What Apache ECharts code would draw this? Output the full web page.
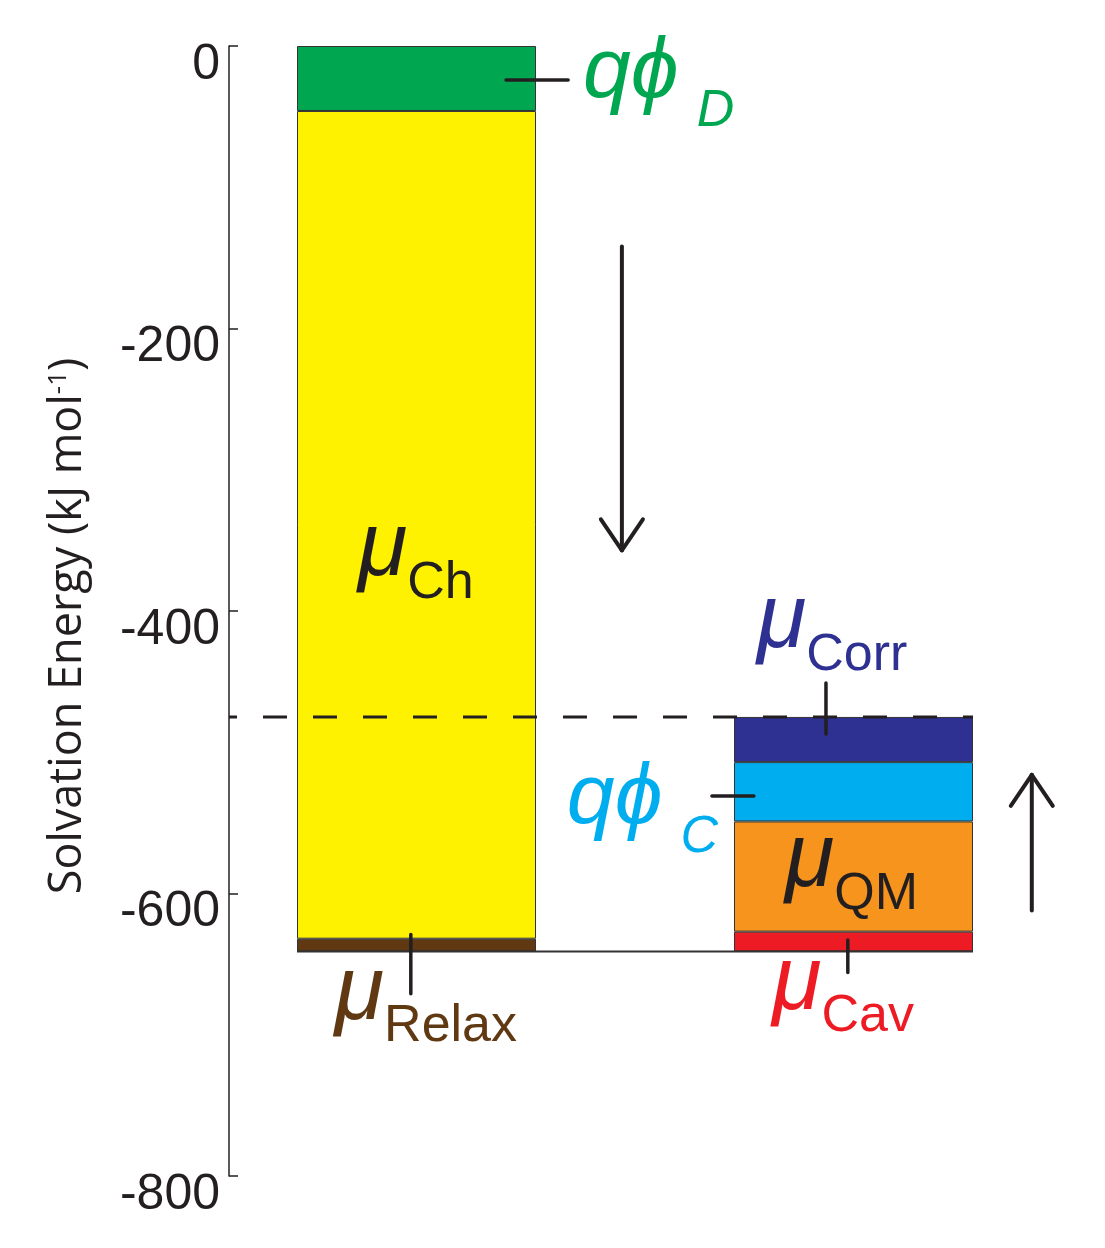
<!DOCTYPE html>
<html><head><meta charset="utf-8">
<script src="https://cdn.jsdelivr.net/npm/echarts@6/dist/echarts.min.js"></script>
<style>html,body{margin:0;padding:0;background:#fff}#c{width:1105px;height:1248px}</style>
</head><body><div id="c"></div>
<script>
// ---------------- data ----------------
const categories = ['Direct', 'Cluster'];   // left bar, right bar (not labelled)
const barX = [0, 1];
const yTicks = [0, -200, -400, -600, -800];
// left bar components (kJ/mol)
const qphiD   = [-46, '-'];
const muCh    = [-586, '-'];
const muRelax = [-9, '-'];
// right bar components (kJ/mol)
const rightOffset = ['-', -475];            // invisible spacer (dashed level)
const muCorr  = ['-', -32];
const qphiC   = ['-', -42];
const muQM    = ['-', -78];
const muCav   = ['-', -14];
// label texts
const labelMain = ['qϕ', 'μ', 'μ', 'μ', 'qϕ', 'μ', 'μ'];
const labelSub  = ['D', 'Ch', 'Relax', 'Corr', 'C', 'QM', 'Cav'];

// ---------------- layout / style ----------------
const BAR_W = 239;
const AXIS_SHIFT = 31;     // y axis drawn this far right of grid left
const INK = '#231F20';
const colors = {
  qphiD: '#00A650', muCh: '#FFF200', muRelax: '#603913',
  muCorr: '#2E3192', qphiC: '#00AEEF', muQM: '#F7941D', muCav: '#ED1C24'
};
const labelColors = ['#00A650', INK, '#603913', '#2E3192', '#00AEEF', INK, '#ED1C24'];
// anchor (left edge, baseline of subscript-free line) in data units
const labelAnchor = [
  [0.381, -36], [-0.134, -372], [-0.187, -686], [0.779, -423],
  [0.344, -550], [0.843, -592], [0.814, -679]
];
// leader lines [x1,y1,x2,y2] in data units
const leaders = [
  [0.205, -24, 0.347, -24],
  [0.937, -451, 0.937, -487],
  [0.676, -531, 0.772, -531],
  [0.987, -633, 0.987, -656],
  [-0.013, -629, -0.013, -671]
];
// arrows [x, yStart, yEnd]
const arrows = [[0.470, -142, -357], [1.408, -612, -516]];

const FONT = "'Liberation Sans', 'DejaVu Sans', Arial, sans-serif";
const mctx = document.createElement('canvas').getContext('2d');
function textW(t, size, italic) {
  mctx.font = (italic ? 'italic ' : '') + size + 'px ' + FONT;
  return mctx.measureText(t).width;
}

function barSeries(name, arr, color) {
  return {
    name, type: 'bar', stack: 'e', barWidth: BAR_W,
    data: arr,
    itemStyle: { color, borderColor: '#333', borderWidth: 1 },
    silent: true
  };
}

function renderDecor(params, api) {
  const ch = [];
  const P = (x, y) => api.coord([x, y]);
  const half = BAR_W / 2;
  const axisX = params.coordSys.x + AXIS_SHIFT;
  // dashed level line
  const dashY = rightOffset[1];
  const b = P(barX[1], dashY);
  ch.push({ type: 'line', shape: { x1: axisX, y1: b[1], x2: b[0] + half, y2: b[1] },
    style: { stroke: INK, lineWidth: 3, lineDash: [24, 26], lineDashOffset: 16, fill: null } });
  // baseline at total level
  const total = qphiD[0] + muCh[0] + muRelax[0];
  const c = P(barX[0], total), d = P(barX[1], total);
  ch.push({ type: 'line', shape: { x1: c[0] - half, y1: c[1], x2: d[0] + half, y2: d[1] },
    style: { stroke: '#333', lineWidth: 2, fill: null } });
  // leaders
  leaders.forEach(l => {
    const p1 = P(l[0], l[1]), p2 = P(l[2], l[3]);
    ch.push({ type: 'line', shape: { x1: p1[0], y1: p1[1], x2: p2[0], y2: p2[1] },
      style: { stroke: INK, lineWidth: 3.5, lineCap: 'round', fill: null } });
  });
  // arrows
  arrows.forEach(ar => {
    const s = P(ar[0], ar[1]), e = P(ar[0], ar[2]);
    const dir = e[1] > s[1] ? 1 : -1;
    const st = { stroke: INK, lineWidth: 4, lineCap: 'round', lineJoin: 'round', fill: null };
    ch.push({ type: 'line', shape: { x1: s[0], y1: s[1], x2: e[0], y2: e[1] }, style: st });
    ch.push({ type: 'line', shape: { x1: e[0] - 21, y1: e[1] - dir * 31, x2: e[0], y2: e[1] }, style: st });
    ch.push({ type: 'line', shape: { x1: e[0] + 21, y1: e[1] - dir * 31, x2: e[0], y2: e[1] }, style: st });
  });
  // labels
  labelMain.forEach((m, i) => {
    const isQ = m !== 'μ';
    const mSize = isQ ? 86 : 90;
    const sSize = 52;
    const mShift = isQ ? 6 : 10;
    const p = P(labelAnchor[i][0], labelAnchor[i][1]);
    ch.push({ type: 'text', x: p[0], y: p[1] + mShift - 0.3465 * mSize,
      style: { text: m, fontSize: mSize, fontFamily: FONT, fontStyle: 'italic', fill: labelColors[i], align: 'left', verticalAlign: 'middle' } });
    const sx = p[0] + textW(m, mSize, true) + (isQ ? 18 : 0);
    const sy = p[1] + (isQ ? 33 : 30);
    ch.push({ type: 'text', x: sx, y: sy - 0.3465 * sSize,
      style: { text: labelSub[i], fontSize: sSize, fontFamily: FONT, fontStyle: isQ ? 'italic' : 'normal', fill: labelColors[i], align: 'left', verticalAlign: 'middle' } });
  });
  return { type: 'group', children: ch };
}

const chart = echarts.init(document.getElementById('c'), null, { renderer: 'canvas' });
chart.setOption({
  animation: false,
  backgroundColor: '#fff',
  grid: { left: 229 - AXIS_SHIFT, right: 33, top: 46, bottom: 72, containLabel: false, outerBoundsMode: 'none' },
  xAxis: [
    { type: 'category', data: categories, show: false, axisLine: { onZero: false } },
    { type: 'value', min: -0.5, max: 1.5, show: false, axisLine: { onZero: false } }
  ],
  yAxis: {
    type: 'value', min: Math.min(...yTicks), max: Math.max(...yTicks), interval: 200,
    offset: -AXIS_SHIFT,
    axisLine: { show: true, onZero: false, lineStyle: { color: INK, width: 1.5 } },
    axisTick: { show: true, inside: true, length: 9, lineStyle: { color: INK, width: 1.5 } },
    splitLine: { show: false },
    axisLabel: { fontSize: 50, fontFamily: FONT, color: INK, margin: 9, verticalAlign: 'top', lineHeight: 38 },
    name: '{a|Solvation Energy (kJ mol}{s|-1}{a|)}',
    nameLocation: 'middle', nameGap: 138,
    nameTextStyle: {
      padding: [0, 30, 0, 0],
      rich: {
        a: { fontSize: 45, fontFamily: "'Open Sans', sans-serif", color: INK },
        s: { fontSize: 26, fontFamily: "'Open Sans', sans-serif", color: INK, verticalAlign: 'top', padding: [0, 0, 16, 0] }
      }
    }
  },
  series: [
    { name: 'offset', type: 'bar', stack: 'e', barWidth: BAR_W, data: rightOffset,
      itemStyle: { color: 'rgba(0,0,0,0)', borderWidth: 0 }, silent: true },
    barSeries('qphiD', qphiD, colors.qphiD),
    barSeries('muCh', muCh, colors.muCh),
    barSeries('muRelax', muRelax, colors.muRelax),
    barSeries('muCorr', muCorr, colors.muCorr),
    barSeries('qphiC', qphiC, colors.qphiC),
    barSeries('muQM', muQM, colors.muQM),
    barSeries('muCav', muCav, colors.muCav),
    { type: 'custom', xAxisIndex: 1, data: [[0, 0]], renderItem: renderDecor, clip: false, silent: true, z: 5 }
  ]
});
</script></body></html>
